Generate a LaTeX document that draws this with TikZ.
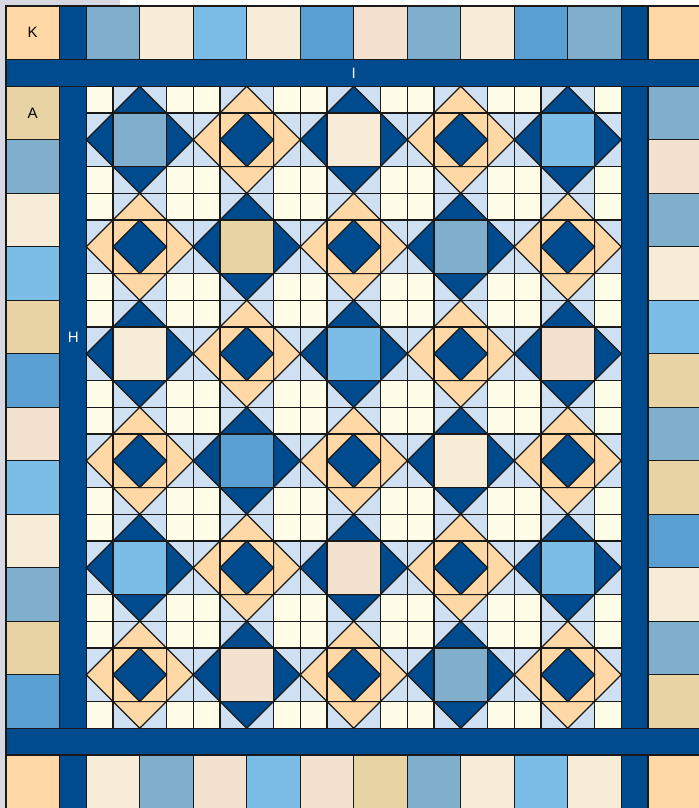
\documentclass[tikz,border=0pt]{standalone}
\usepackage{fontspec}
\setmainfont{Liberation Sans}
\usepackage{xcolor}
\usepackage{tikz}

\definecolor{navy}{HTML}{004A8E}
\definecolor{haze}{HTML}{CFE0F2}
\definecolor{ivory}{HTML}{FFFCE7}
\definecolor{peach}{HTML}{FFD8A6}
\definecolor{steel}{HTML}{80AFCD}
\definecolor{sky}{HTML}{7BBDE7}
\definecolor{blue}{HTML}{5A9FD2}
\definecolor{cream}{HTML}{F7ECD8}
\definecolor{pink}{HTML}{F3E2D0}
\definecolor{tan}{HTML}{E7D3A3}
\definecolor{winbg}{HTML}{D8D8E2}

\begin{document}
\begin{tikzpicture}[
  x=1cm, y=-1cm,
  patch/.style={draw=black!90, line width=1.3pt},
  lbl/.style={font=\fontsize{16}{19}\selectfont},
  pics/qblock/.style 2 args={code={
    \foreach \i/\j in {0/0,3/0,0/3,3/3}
      \draw[patch, fill=ivory] (\i,\j) rectangle ++(1,1);
    \draw[patch, fill=haze] (1,0) rectangle (3,1) (1,3) rectangle (3,4)
                            (0,1) rectangle (1,3) (3,1) rectangle (4,3);
    \draw[patch, fill=#1] (1,1) -- (2,0) -- (3,1) -- cycle
                          (1,3) -- (2,4) -- (3,3) -- cycle
                          (1,1) -- (0,2) -- (1,3) -- cycle
                          (3,1) -- (4,2) -- (3,3) -- cycle;
    \draw[patch, fill=#2] (1,1) rectangle (3,3);
  }}]
\useasboundingbox (-0.224,-0.224) rectangle (25.87,29.98);
\fill[winbg] (-0.224,-0.224) rectangle (0,29.98);
\fill[winbg] (-0.224,-0.224) rectangle (4.26,0);

% outer border: top and bottom rows
\foreach \hue [count=\i from 0] in {steel,cream,sky,cream,blue,pink,steel,cream,blue,steel}
  \draw[patch, fill=\hue] (3+2*\i,0) rectangle ++(2,2);
\foreach \hue [count=\i from 0] in {cream,steel,pink,sky,pink,tan,steel,cream,sky,cream}
  \draw[patch, fill=\hue] (3+2*\i,28) rectangle ++(2,2);
\foreach \i/\j in {0/0,24/0,0/28,24/28}
  \draw[patch, fill=peach] (\i,\j) rectangle ++(2,2);
\foreach \i/\j in {2/0,23/0,2/28,23/28}
  \draw[patch, fill=navy] (\i,\j) rectangle ++(1,2);

% outer border: side columns
\foreach \hue [count=\i from 0] in {tan,steel,cream,sky,tan,blue,pink,sky,cream,steel,tan,blue}
  \draw[patch, fill=\hue] (0,3+2*\i) rectangle ++(2,2);
\foreach \hue [count=\i from 0] in {steel,pink,steel,cream,sky,tan,steel,tan,blue,cream,steel,tan}
  \draw[patch, fill=\hue] (24,3+2*\i) rectangle ++(2,2);

% sashing bands
\draw[patch, fill=navy] (0,2) rectangle (26,3);
\draw[patch, fill=navy] (0,27) rectangle (26,28);
\draw[patch, fill=navy] (2,3) rectangle (3,27);
\draw[patch, fill=navy] (23,3) rectangle (24,27);

% star blocks
\foreach \c/\r/\hue in {0/0/steel, 2/0/cream, 4/0/sky, 1/1/tan, 3/1/steel,
                        0/2/cream, 2/2/sky, 4/2/pink, 1/3/blue, 3/3/cream,
                        0/4/sky, 2/4/pink, 4/4/sky, 1/5/pink, 3/5/steel}
  \pic at (3+4*\c,3+4*\r) {qblock={navy}{\hue}};

% peach blocks
\foreach \c/\r in {1/0, 3/0, 0/1, 2/1, 4/1, 1/2, 3/2, 0/3, 2/3, 4/3,
                   1/4, 3/4, 0/5, 2/5, 4/5} {
  \pic at (3+4*\c,3+4*\r) {qblock={peach}{peach}};
  \draw[patch, fill=navy, shift={(3+4*\c,3+4*\r)}]
    (2,1) -- (3,2) -- (2,3) -- (1,2) -- cycle;
}

% labels
\node[lbl] (k) at (1,1) {K};
\node[lbl] (a) at (1,4) {A};
\node[lbl, text=white] (i) at (13,2.5) {I};
\node[lbl, text=white] (h) at (2.52,12.37) {H};
\end{tikzpicture}
\end{document}
